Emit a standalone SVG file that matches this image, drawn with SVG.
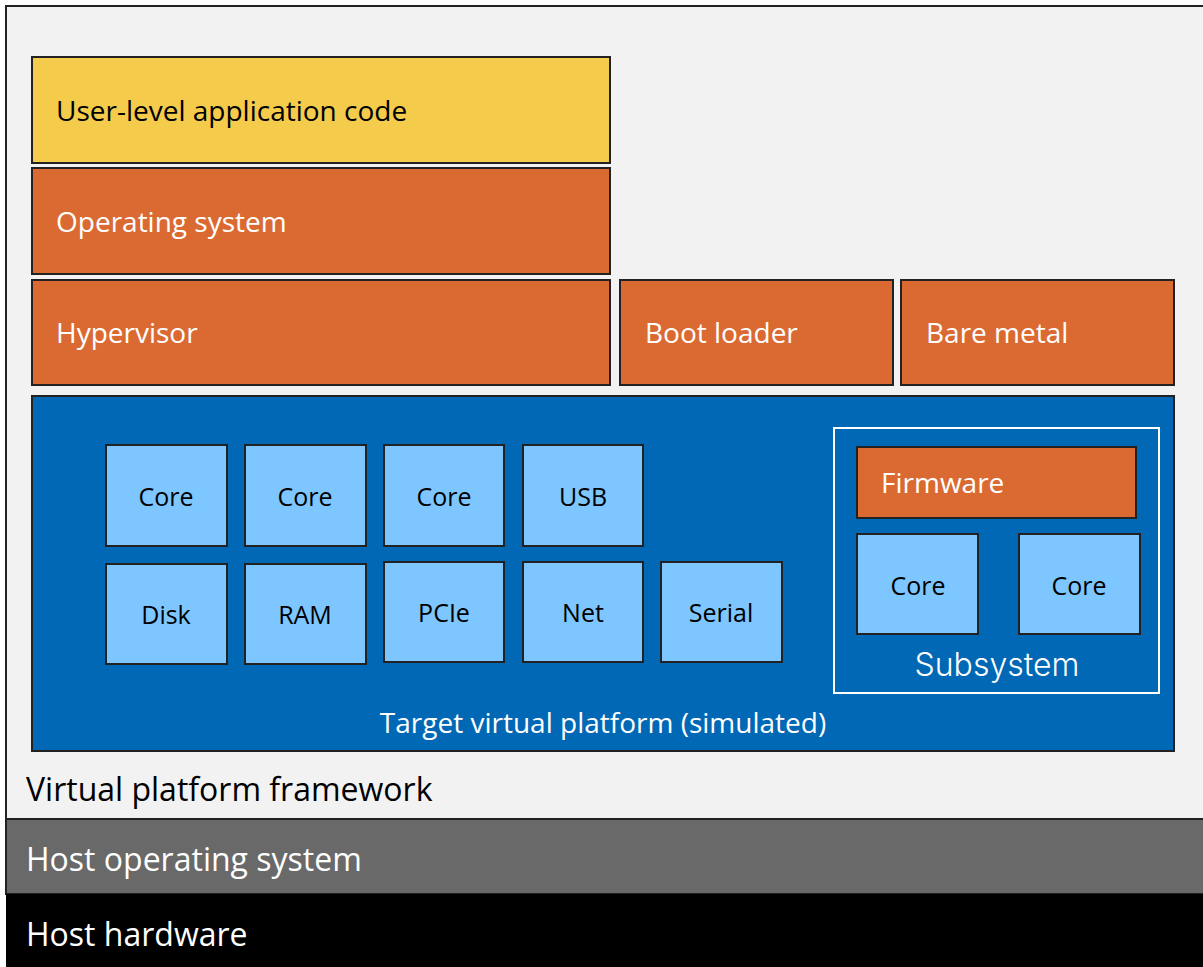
<svg xmlns="http://www.w3.org/2000/svg" width="1203" height="967" viewBox="0 0 1203 967">
  <style>
    text { font-family: "Open Sans", "Liberation Sans", sans-serif; }
    .box { stroke: #222; stroke-width: 2; }
    .app { fill: #F5CB4C; }
    .sw { fill: #DA6A32; }
    .hw { fill: #7DC6FF; }
    .lbl-dark { fill: #000; font-size: 28px; }
    .lbl-light { fill: #fff; font-size: 28px; }
    .host { font-size: 32px; }
    .small { fill: #000; font-size: 25px; text-anchor: middle; }
  </style>

  <!-- framework background -->
  <g id="framework">
    <rect x="6" y="6" width="1210" height="813" fill="#F2F2F2" stroke="#222" stroke-width="2"/>
    <text x="26" y="801" class="lbl-dark host">Virtual platform framework</text>
  </g>

  <g id="host-os">
    <rect x="6" y="819" width="1210" height="75" fill="#696969" stroke="#222" stroke-width="2"/>
    <text x="26" y="871" class="lbl-light host">Host operating system</text>
  </g>

  <g id="host-hw">
    <rect x="6" y="894" width="1210" height="80" fill="#000"/>
    <text x="26" y="946" class="lbl-light host">Host hardware</text>
  </g>

  <!-- software stack -->
  <g id="user-app">
    <rect x="32" y="57" width="578" height="106" class="box app"/>
    <text x="56" y="121" class="lbl-dark">User-level application code</text>
  </g>
  <g id="os">
    <rect x="32" y="168" width="578" height="106" class="box sw"/>
    <text x="56" y="232" class="lbl-light">Operating system</text>
  </g>
  <g id="hypervisor">
    <rect x="32" y="280" width="578" height="105" class="box sw"/>
    <text x="56" y="343" class="lbl-light">Hypervisor</text>
  </g>
  <g id="boot-loader">
    <rect x="620" y="280" width="273" height="105" class="box sw"/>
    <text x="645" y="343" class="lbl-light">Boot loader</text>
  </g>
  <g id="bare-metal">
    <rect x="901" y="280" width="273" height="105" class="box sw"/>
    <text x="926" y="343" class="lbl-light">Bare metal</text>
  </g>

  <!-- simulated target -->
  <g id="target">
    <rect x="32" y="396" width="1142" height="355" fill="#0068B5" stroke="#222" stroke-width="2"/>
    <text x="603" y="733" class="lbl-light" text-anchor="middle">Target virtual platform (simulated)</text>
  </g>

  <g id="core1"><rect x="106" y="445" width="121" height="101" class="box hw"/><text x="166" y="506" class="small">Core</text></g>
  <g id="core2"><rect x="245" y="445" width="121" height="101" class="box hw"/><text x="305" y="506" class="small">Core</text></g>
  <g id="core3"><rect x="384" y="445" width="120" height="101" class="box hw"/><text x="444" y="506" class="small">Core</text></g>
  <g id="usb"><rect x="523" y="445" width="120" height="101" class="box hw"/><text x="583" y="506" class="small">USB</text></g>

  <g id="disk"><rect x="106" y="564" width="121" height="100" class="box hw"/><text x="166" y="624" class="small">Disk</text></g>
  <g id="ram"><rect x="245" y="564" width="121" height="100" class="box hw"/><text x="305" y="624" class="small">RAM</text></g>
  <g id="pcie"><rect x="384" y="562" width="120" height="100" class="box hw"/><text x="444" y="622" class="small">PCIe</text></g>
  <g id="net"><rect x="523" y="562" width="120" height="100" class="box hw"/><text x="583" y="622" class="small">Net</text></g>
  <g id="serial"><rect x="661" y="562" width="121" height="100" class="box hw"/><text x="721" y="622" class="small">Serial</text></g>

  <g id="subsystem">
    <rect x="834" y="428" width="325" height="265" fill="none" stroke="#fff" stroke-width="2"/>
    <text x="997" y="676" fill="#fff" font-size="32" text-anchor="middle" style="font-family: Inter, 'Noto Sans', sans-serif; font-weight: 300;">Subsystem</text>
  </g>
  <g id="firmware">
    <rect x="857" y="447" width="279" height="71" class="box sw"/>
    <text x="881" y="493" class="lbl-light">Firmware</text>
  </g>
  <g id="sub-core1"><rect x="857" y="534" width="121" height="100" class="box hw"/><text x="918" y="595" class="small">Core</text></g>
  <g id="sub-core2"><rect x="1019" y="534" width="121" height="100" class="box hw"/><text x="1079" y="595" class="small">Core</text></g>

  <g id="connectors"/>
</svg>
